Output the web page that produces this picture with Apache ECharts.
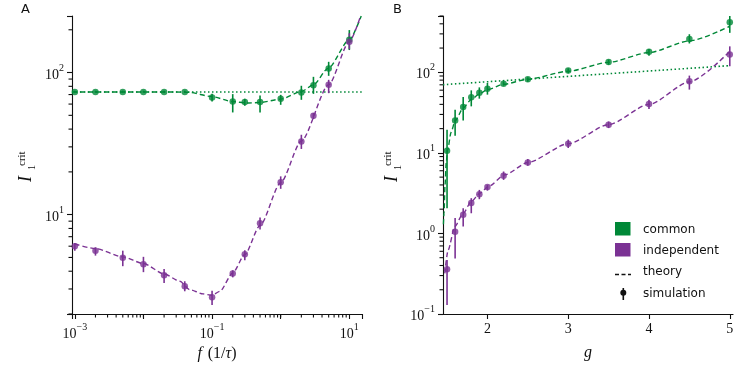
<!DOCTYPE html>
<html><head><meta charset="utf-8">
<script src="https://cdn.jsdelivr.net/npm/echarts@6/dist/echarts.min.js"></script>
<style>html,body{margin:0;padding:0;background:#fff}#c{width:750px;height:375px}</style>
</head><body><div id="c"></div><script>
// ---------- data: panel A ----------
const fA = [0.001,0.002,0.005,0.01,0.02,0.04,0.1,0.2,0.3,0.5,1,2,3,5,10];
const commonA    = [73,73,73,73,73,73,66.7,62.5,62,62,65.3,72.3,81.5,106.7,170];
const commonA_lo = [72,72,72,72,72,72,62.5,52.4,58.3,52.4,59.3,64.3,70.8,94.8,144];
const commonA_hi = [74.5,74.5,74.5,74.5,74.5,74.5,70.8,70.5,65.3,68.9,69.7,80.7,93.3,119,199];
const indepA    = [5.99,5.58,4.97,4.48,3.74,3.13,2.62,3.85,5.26,8.69,16.9,32.7,49.6,82,165];
const indepA_lo = [5.58,5.15,4.34,3.94,3.31,2.89,2.31,3.62,4.78,7.85,15.2,29.0,47.1,71.6,146];
const indepA_hi = [6.32,5.89,5.58,5.05,4.15,3.40,2.92,4.06,5.61,9.57,18.6,36.5,51.9,88.9,189];
const commonTheoryA_f = [0.00091,0.01,0.03,0.047,0.098,0.2,0.316,0.49,1.0,2.0,3.0,4.9,10,14.9];
const commonTheoryA_I = [73,73,73,72.5,67.8,62.5,61,61.5,65,73.5,82,107,170,250];
const indepTheoryA_f = [0.001,0.002,0.005,0.01,0.02,0.034,0.047,0.074,0.1,0.13,0.2,0.3,0.5,1,2,5,10,14.6];
const indepTheoryA_I = [6.22,5.77,5.05,4.53,3.83,3.40,2.97,2.77,2.71,2.89,3.89,5.24,8.4,16.8,33,82,165,250];
const dottedA_f = [0.00091, 15.3];
const dottedA_I = [73, 73];
// ---------- data: panel B ----------
const gB = [1.5,1.6,1.7,1.8,1.9,2.0,2.2,2.5,3,3.5,4,4.5,5];
const commonB    = [10.6,25.3,37.2,48.9,55.9,62.7,72.3,81.9,105,134.6,179.6,260,419];
const commonB_lo = [2.06,16.3,25.3,37.8,47.1,52.8,68.3,76.6,97.2,124,161,228,309];
const commonB_hi = [19.4,34.4,49.4,59.7,65,73.8,76.6,86.7,112,144,195,297,507];
const indepB    = [0.359,1.05,1.70,2.38,3.07,3.76,5.19,7.6,13.0,22.4,40.5,77.3,166];
const indepB_lo = [0.129,0.49,1.22,1.78,2.66,3.40,4.62,6.92,11.5,20.3,35.1,61,119];
const indepB_hi = [0.468,1.55,2.06,2.74,3.47,4.01,5.87,8.38,14.6,24.5,45.7,91,210];
const commonTheoryB_g = [1.455,1.463,1.475,1.49,1.506,1.55,1.6,1.7,1.8,1.9,2.0,2.2,2.5,3.0,3.5,4.0,4.5,5.0];
const commonTheoryB_I = [1.3,1.8,4,7.5,10.7,18,25,36,46,54,61,71,82,103,133,176,245,373];
const indepTheoryB_g = [1.472,1.513,1.596,1.70,1.80,1.907,2.01,2.217,2.5,3.0,3.5,4.0,4.5,5.0];
const indepTheoryB_I = [0.32,0.62,1.22,1.78,2.49,3.16,3.82,5.35,7.6,13,22.4,40,76,182];
const dottedB_g = [1.45, 5.0];
const dottedB_I = [70.2, 121];
// ---------- ticks ----------
const xMajorA = [0.001, 0.1, 10];
const xMinorA = [0.002,0.003,0.004,0.005,0.006,0.007,0.008,0.009,0.01,0.02,0.03,0.04,0.05,0.06,0.07,0.08,0.09,0.2,0.3,0.4,0.5,0.6,0.7,0.8,0.9,1,2,3,4,5,6,7,8,9];
const yMajorA = [10, 100];
const yMinorA = [2,3,4,5,6,7,8,9,20,30,40,50,60,70,80,90,200];
const xMajorB = [2,3,4,5];
const yMajorB = [0.1, 1, 10, 100];
const yMinorB = [0.2,0.3,0.4,0.5,0.6,0.7,0.8,0.9,2,3,4,5,6,7,8,9,20,30,40,50,60,70,80,90,200,300,400,500];
// axis ranges
const xRangeA = [0.00091, 15.3], yRangeA = [2.0, 250];
const xRangeB = [1.45, 5.04],    yRangeB = [0.1, 500];

const GREEN = '#008837', PURPLE = '#7b3294', INK = '#111';
const SERIF = 'Liberation Serif';

function pow10Label(v){
  const e = Math.round(Math.log10(v));
  const s = e < 0 ? '\u2212' + (-e) : String(e);
  return '{b|10}{s|' + s + '}';
}
const powRich = {
  b: {fontFamily: SERIF, fontSize: 14, color: INK, verticalAlign: 'bottom', lineHeight: 19},
  s: {fontFamily: SERIF, fontSize: 10, color: INK, verticalAlign: 'top', lineHeight: 11}
};

function majorAxis(type, gi, range, majors, logLabels, extra){
  const tick = type === 'log'
    ? {show: true, length: 5, lineStyle: {color: INK, width: 1.1}}
    : {show: true, length: 5, customValues: majors, lineStyle: {color: INK, width: 1.1}};
  return Object.assign({
    type: type, gridIndex: gi, min: range[0], max: range[1], logBase: 10,
    axisLine: {show: true, lineStyle: {color: INK, width: 1.1}},
    axisTick: tick,
    axisLabel: {show: true, customValues: majors, color: INK, margin: 8,
      fontFamily: SERIF, fontSize: 14,
      formatter: logLabels ? pow10Label : (v => String(v)),
      rich: powRich},
    splitLine: {show: false}, minorTick: {show: false}, minorSplitLine: {show: false}
  }, extra || {});
}

function lineSeries(xs, ys, xi, yi, color, dash, width){
  return {type: 'line', xAxisIndex: xi, yAxisIndex: yi,
    data: xs.map((x, i) => [x, ys[i]]), showSymbol: false, symbol: 'none',
    smooth: 0.25, smoothMonotone: 'x', clip: true, silent: true,
    lineStyle: {color: color, width: width, type: dash}, z: 2};
}
function errSeries(xs, lo, hi, xi, yi, color){
  return {type: 'custom', xAxisIndex: xi, yAxisIndex: yi, clip: true, silent: true,
    data: xs.map((x, i) => [x, lo[i], hi[i]]), encode: {x: 0, y: 1},
    renderItem: function(params, api){
      const p1 = api.coord([api.value(0), api.value(1)]);
      const p2 = api.coord([api.value(0), api.value(2)]);
      return {type: 'line', shape: {x1: p1[0], y1: p1[1], x2: p2[0], y2: p2[1]},
        style: {stroke: color, lineWidth: 1.6}};
    }, z: 3};
}
function ptSeries(xs, ys, xi, yi, color){
  return {type: 'scatter', xAxisIndex: xi, yAxisIndex: yi, silent: true,
    data: xs.map((x, i) => [x, ys[i]]), symbol: 'circle', symbolSize: 6.5,
    itemStyle: {color: color}, z: 4};
}
// minor tick marks: each tick value placed through the axis scale, drawn outward
function tickSeries(values, dim, fixed, ai, len){
  return {type: 'custom', xAxisIndex: ai, yAxisIndex: ai, clip: false, silent: true,
    data: values.map(v => dim === 'x' ? [v, fixed] : [fixed, v]),
    encode: {x: 0, y: 1},
    renderItem: function(params, api){
      const p = api.coord([api.value(0), api.value(1)]);
      const shape = dim === 'x'
        ? {x1: p[0], y1: p[1], x2: p[0], y2: p[1] + len}
        : {x1: p[0] - len, y1: p[1], x2: p[0], y2: p[1]};
      return {type: 'line', shape: shape, style: {stroke: INK, lineWidth: 1.1}};
    }, z: 5};
}

function yTitle(cx, cy){
  return {type: 'group', x: cx, y: cy, rotation: Math.PI / 2, children: [
    {type: 'text', x: -16, y: 10, style: {text: 'I', font: 'italic 18px "Liberation Serif"', fill: INK, textAlign: 'left', textVerticalAlign: 'bottom'}},
    {type: 'text', x: 0, y: 2.5, style: {text: 'crit', font: '11px "Liberation Serif"', fill: INK, textAlign: 'left', textVerticalAlign: 'bottom'}},
    {type: 'text', x: -4, y: 12.5, style: {text: '1', font: '10px "Liberation Serif"', fill: INK, textAlign: 'left', textVerticalAlign: 'bottom'}}
  ]};
}

const nameRich = {
  i: {fontFamily: SERIF, fontStyle: 'italic', fontSize: 16, color: INK},
  r: {fontFamily: SERIF, fontSize: 16, color: INK}
};

const chart = echarts.init(document.getElementById('c'), null, {renderer: 'canvas'});
chart.setOption({
  animation: false,
  backgroundColor: '#fff',
  grid: [
    {left: 72, top: 16, width: 290, height: 298},
    {left: 443, top: 16, width: 290, height: 298}
  ],
  xAxis: [
    majorAxis('log', 0, xRangeA, xMajorA, true, {
      name: '{i|f}\u2009 {r|(1/}{i|\u03c4}{r|)}', nameLocation: 'middle', nameGap: 31,
      nameTextStyle: {rich: nameRich}}),
    majorAxis('value', 1, xRangeB, xMajorB, false, {
      name: '{i|g}', nameLocation: 'middle', nameGap: 31, nameTextStyle: {rich: nameRich}})
  ],
  yAxis: [
    majorAxis('log', 0, yRangeA, yMajorA, true),
    majorAxis('log', 1, yRangeB, yMajorB, true)
  ],
  series: [
    lineSeries(dottedA_f, dottedA_I, 0, 0, GREEN, [1.5, 2.5], 1.6),
    lineSeries(commonTheoryA_f, commonTheoryA_I, 0, 0, GREEN, [5, 3], 1.4),
    lineSeries(indepTheoryA_f, indepTheoryA_I, 0, 0, PURPLE, [5, 3], 1.4),
    errSeries(fA, commonA_lo, commonA_hi, 0, 0, GREEN),
    errSeries(fA, indepA_lo, indepA_hi, 0, 0, PURPLE),
    ptSeries(fA, commonA, 0, 0, GREEN),
    ptSeries(fA, indepA, 0, 0, PURPLE),
    lineSeries(dottedB_g, dottedB_I, 1, 1, GREEN, [1.5, 2.5], 1.6),
    lineSeries(commonTheoryB_g, commonTheoryB_I, 1, 1, GREEN, [5, 3], 1.4),
    lineSeries(indepTheoryB_g, indepTheoryB_I, 1, 1, PURPLE, [5, 3], 1.4),
    errSeries(gB, commonB_lo, commonB_hi, 1, 1, GREEN),
    errSeries(gB, indepB_lo, indepB_hi, 1, 1, PURPLE),
    ptSeries(gB, commonB, 1, 1, GREEN),
    ptSeries(gB, indepB, 1, 1, PURPLE),
    tickSeries(xMinorA, 'x', yRangeA[0], 0, 3.5),
    tickSeries(yMinorA, 'y', xRangeA[0], 0, 3.5),
    tickSeries(yMinorB, 'y', xRangeB[0], 1, 3.5)
  ],
  graphic: [
    {type: 'text', x: 21, y: 3, style: {text: 'A', font: '13px "DejaVu Sans"', fill: INK}},
    {type: 'text', x: 393, y: 3, style: {text: 'B', font: '13px "DejaVu Sans"', fill: INK}},
    yTitle(25, 166),
    yTitle(391, 166),
    {type: 'rect', shape: {x: 615, y: 222, width: 15.5, height: 13.5}, style: {fill: GREEN}},
    {type: 'rect', shape: {x: 615, y: 243, width: 15.5, height: 13.5}, style: {fill: PURPLE}},
    {type: 'line', shape: {x1: 615, y1: 274.5, x2: 631, y2: 274.5}, style: {stroke: INK, lineWidth: 1.4, lineDash: [4, 2.5]}},
    {type: 'line', shape: {x1: 623.3, y1: 288, x2: 623.3, y2: 300}, style: {stroke: INK, lineWidth: 1.6}},
    {type: 'circle', shape: {cx: 623.3, cy: 292.7, r: 3}, style: {fill: INK}},
    {type: 'text', x: 643, y: 229.5, style: {text: 'common', font: '12px "DejaVu Sans"', fill: INK, textVerticalAlign: 'middle'}},
    {type: 'text', x: 643, y: 250.5, style: {text: 'independent', font: '12px "DejaVu Sans"', fill: INK, textVerticalAlign: 'middle'}},
    {type: 'text', x: 643, y: 272, style: {text: 'theory', font: '12px "DejaVu Sans"', fill: INK, textVerticalAlign: 'middle'}},
    {type: 'text', x: 643, y: 294, style: {text: 'simulation', font: '12px "DejaVu Sans"', fill: INK, textVerticalAlign: 'middle'}}
  ]
});
</script></body></html>
